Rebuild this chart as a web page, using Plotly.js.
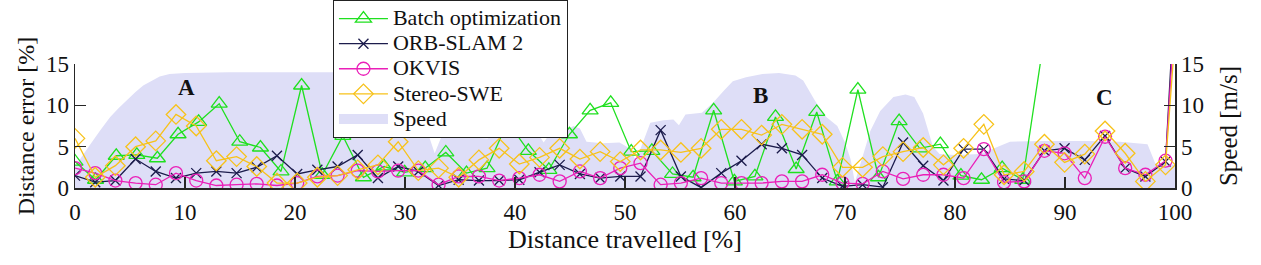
<!DOCTYPE html>
<html><head><meta charset="utf-8">
<script src="https://cdn.plot.ly/plotly-3.0.1.min.js"></script>
<style>html,body{margin:0;padding:0;background:#fff}#chart{width:1261px;height:265px}</style>
</head><body><div id="chart"></div>
<script>
// Distance travelled [%] for the batch optimization samples
const batchDistance = [0, 1.87, 3.75, 5.62, 7.49, 9.37, 11.24, 13.11, 14.98, 16.86, 18.73, 20.6, 22.48, 24.35, 26.22, 28.1, 29.97, 31.84, 33.71, 35.59, 37.46, 39.33, 41.21, 43.08, 44.95, 46.83, 48.7, 50.57, 52.44, 54.32, 56.19, 58.06, 59.94, 61.81, 63.68, 65.56, 67.43, 69.3, 71.17, 73.05, 74.92, 76.79, 78.67, 80.54, 82.41, 84.29, 86.16, 88.03];
const batchError = [3.2, 1.0, 3.9, 4.0, 3.6, 6.5, 8.0, 10.2, 5.6, 4.9, 2.0, 12.4, 1.6, 6.3, 1.3, 2.6, 1.9, 2.4, 4.3, 1.8, 2.4, 8.0, 4.5, 2.2, 6.5, 9.4, 10.3, 4.4, 4.5, 1.7, 1.3, 9.4, 0.8, 1.4, 8.6, 2.3, 9.2, 0.8, 11.9, 1.3, 8.1, 4.8, 5.3, 1.5, 1.0, 2.4, 1.0, 17.5];

// Distance travelled [%] for ORB-SLAM 2, OKVIS and Stereo-SWE samples
const methodDistance = [0, 1.84, 3.67, 5.51, 7.34, 9.18, 11.02, 12.85, 14.69, 16.52, 18.36, 20.2, 22.03, 23.87, 25.7, 27.54, 29.38, 31.21, 33.05, 34.88, 36.72, 38.56, 40.39, 42.23, 44.06, 45.9, 47.74, 49.57, 51.41, 53.24, 55.08, 56.92, 58.75, 60.59, 62.42, 64.26, 66.1, 67.93, 69.77, 71.6, 73.44, 75.28, 77.11, 78.95, 80.78, 82.62, 84.46, 86.29, 88.13, 89.96, 91.8, 93.64, 95.47, 97.31, 99.14, 100.98];
const orbError = [1.5, 0.7, 0.9, 3.5, 2.0, 1.2, 1.8, 2.0, 1.8, 2.5, 3.9, 1.7, 2.2, 2.6, 4.0, 1.2, 2.6, 2.0, 0.3, 1.0, 0.9, 0.9, 1.0, 1.9, 2.8, 1.7, 1.2, 1.4, 1.4, 7.0, 1.4, 0.05, 1.8, 3.3, 5.3, 4.8, 4.0, 1.2, 0.2, 0.4, 0.1, 5.5, 2.7, 0.9, 4.7, 4.7, 1.1, 0.9, 4.5, 4.8, 3.4, 6.3, 2.4, 1.4, 3.2, 48];
const okvisError = [2.4, 1.8, 0.9, 0.6, 0.4, 1.8, 0.9, 0.3, 0.4, 0.5, 0.3, 0.6, 1.4, 1.5, 2.1, 2.0, 2.1, 2.1, 0.4, 1.4, 1.4, 0.9, 1.2, 1.6, 0.8, 2.0, 1.2, 2.4, 3.0, 0.4, 0.6, 1.2, 0.6, 0.6, 0.6, 0.8, 0.8, 1.6, 0.6, 0.5, 2.0, 1.1, 1.6, 1.6, 1.2, 4.7, 0.7, 0.8, 4.5, 4.2, 1.2, 6.2, 2.4, 1.6, 3.3, 42];
const sweError = [6.0, 1.3, 2.7, 5.0, 5.7, 8.9, 7.5, 3.3, 3.8, 2.6, 0.6, 0.6, 1.3, 1.5, 2.2, 2.8, 5.6, 2.1, 2.4, 1.3, 3.4, 4.8, 2.9, 3.7, 4.8, 3.5, 4.4, 3.2, 4.6, 4.6, 4.3, 4.8, 7.1, 7.1, 6.4, 7.7, 7.1, 6.5, 2.5, 2.5, 3.8, 4.4, 4.9, 2.8, 4.8, 7.7, 1.6, 2.0, 5.3, 3.1, 4.1, 6.9, 4.2, 0.8, 2.8, 36];

// Vehicle speed [m/s] along the route
const speedDistance = [0, 0.7, 1.4, 2.3, 3.2, 4.0, 4.7, 5.5, 6.2, 7.0, 7.7, 8.6, 10, 14, 20, 25, 30, 31.3, 32.0, 32.7, 33.4, 34.2, 36, 37.5, 38.5, 40.5, 42.0, 42.6, 43.3, 44.3, 45.3, 45.9, 46.5, 48, 49.5, 50.4, 51.0, 51.5, 52.3, 53.5, 54.4, 54.9, 55.5, 57, 58, 59, 59.8, 61, 62.5, 64, 65.5, 66.2, 67.3, 68.3, 69.3, 70.0, 70.5, 70.9, 71.4, 72.3, 73.2, 74.4, 75.5, 76.3, 77.1, 78.0, 78.6, 80, 82.3, 84.0, 85.0, 88, 92, 95, 97.5, 98.2, 99, 100];
const speed = [2.6, 4.0, 5.3, 7.0, 8.6, 9.7, 10.6, 11.6, 12.4, 13.0, 13.5, 13.8, 13.9, 14.0, 14.0, 14.0, 13.8, 11.0, 7.0, 4.2, 6.5, 6.8, 6.1, 6.0, 6.8, 7.0, 6.8, 5.5, 6.8, 6.6, 7.5, 7.2, 5.6, 5.4, 5.5, 4.8, 3.3, 5.0, 7.9, 8.2, 8.3, 7.6, 8.9, 9.1, 10.3, 11.8, 12.9, 13.4, 13.8, 13.9, 13.6, 13.0, 10.5, 8.6, 7.5, 5.5, 3.5, 0.7, 3.0, 6.9, 9.3, 11.0, 11.3, 11.0, 9.0, 5.0, 4.1, 4.0, 4.1, 5.0, 5.6, 5.7, 5.7, 5.6, 5.3, 3.0, 2.9, 2.8];

const seriesNames = ['Batch optimization', 'ORB-SLAM 2', 'OKVIS', 'Stereo-SWE', 'Speed'];
const xTicks = [0, 10, 20, 30, 40, 50, 60, 70, 80, 90, 100];
const yTicks = [0, 5, 10, 15];
const regionLabels = ['A', 'B', 'C'];
const regionX = [10.1, 62.3, 93.6];
const regionY = [12.2, 11.25, 10.95];

const FONT = 'Liberation Serif, Times New Roman, serif';
const SPEED_FILL = 'rgb(222,222,247)';
const legendName = s => '<span style="font-size:22px">' + s + '</span>';

const speedTrace = {x: speedDistance, y: speed, name: legendName(seriesNames[4]), type: 'scatter', mode: 'lines',
  fill: 'tozeroy', fillcolor: SPEED_FILL, line: {width: 0, color: SPEED_FILL}, showlegend: false};
// legend swatch for the speed area (carries no data)
const speedLegend = {x: [null], y: [null], name: legendName(seriesNames[4]), type: 'scatter', mode: 'lines',
  line: {color: SPEED_FILL, width: 22}, legendrank: 5, hoverinfo: 'skip'};
const batchTrace = {x: batchDistance, y: batchError, name: legendName(seriesNames[0]), type: 'scatter', mode: 'lines+markers',
  line: {color: '#1fe01f', width: 1.3}, legendrank: 1,
  marker: {symbol: 'triangle-up-open', size: 14, color: '#1fe01f', line: {width: 1.3}}};
const orbTrace = {x: methodDistance, y: orbError, name: legendName(seriesNames[1]), type: 'scatter', mode: 'lines+markers',
  line: {color: '#1c1c4c', width: 1.3}, legendrank: 2,
  marker: {symbol: 'x-thin-open', size: 10, color: '#1c1c4c', line: {width: 1.3, color: '#1c1c4c'}}};
const okvisTrace = {x: methodDistance, y: okvisError, name: legendName(seriesNames[2]), type: 'scatter', mode: 'lines+markers',
  line: {color: '#ea1fb8', width: 1.3}, legendrank: 3,
  marker: {symbol: 'circle-open', size: 13, color: '#ea1fb8', line: {width: 1.3}}};
const sweTrace = {x: methodDistance, y: sweError, name: legendName(seriesNames[3]), type: 'scatter', mode: 'lines+markers',
  line: {color: '#f7c21a', width: 1.3}, legendrank: 4,
  marker: {symbol: 'diamond-open', size: 15, color: '#f7c21a', line: {width: 1.3}}};
const rightAxisAnchor = {x: [null], y: [null], yaxis: 'y2', showlegend: false, hoverinfo: 'skip', type: 'scatter', mode: 'lines'};

const data = [speedTrace, batchTrace, orbTrace, okvisTrace, sweTrace, speedLegend, rightAxisAnchor];

const axisCommon = {
  showgrid: false, zeroline: false, showline: true, linecolor: '#262626', linewidth: 1.5,
  ticks: 'inside', ticklen: 11, tickwidth: 1.2, tickcolor: '#262626',
  tickfont: {family: FONT, size: 23, color: '#111'}
};

const layout = {
  width: 1261, height: 265,
  margin: {l: 75, r: 86, t: 64, b: 77, autoexpand: false},
  paper_bgcolor: '#fff', plot_bgcolor: '#fff',
  font: {family: FONT, color: '#111'},
  showlegend: true,
  legend: {x: 0.2345, y: 1.516, xanchor: 'left', yanchor: 'top',
    bgcolor: '#fff', bordercolor: '#222', borderwidth: 1, maxheight: 400,
    font: {family: FONT, size: 17, color: '#111'}, itemwidth: 49, traceorder: 'normal'},
  xaxis: Object.assign({}, axisCommon, {range: [0, 100], tickvals: xTicks, ticklabelstandoff: 3,
    title: {text: 'Distance travelled [%]', font: {family: FONT, size: 26}, standoff: 4}}),
  yaxis: Object.assign({}, axisCommon, {range: [0, 15], tickvals: yTicks,
    title: {text: 'Distance error [%]', font: {family: FONT, size: 24}, standoff: 4}}),
  yaxis2: Object.assign({}, axisCommon, {range: [0, 15], tickvals: yTicks, overlaying: 'y', side: 'right',
    title: {text: 'Speed [m/s]', font: {family: FONT, size: 25}, standoff: 16}}),
  annotations: regionLabels.map((t, k) => ({x: regionX[k], y: regionY[k], xref: 'x', yref: 'y',
    text: '<b>' + t + '</b>', showarrow: false, font: {family: FONT, size: 23, color: '#111'}}))
};

Plotly.newPlot('chart', data, layout, {displayModeBar: false, staticPlot: true});
</script>
</body></html>
